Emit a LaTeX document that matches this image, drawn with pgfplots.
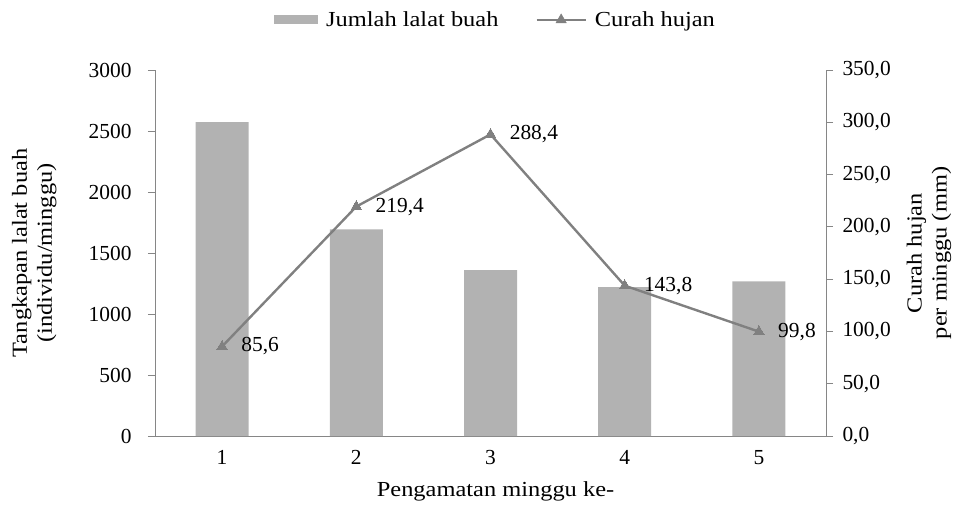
\documentclass[border=0pt]{standalone}
\usepackage{fontspec}
\setmainfont{Liberation Serif}[FakeStretch=1.14]
\newfontfamily\numfont{Liberation Serif}
\usepackage{pgfplots}
\pgfplotsset{compat=1.18}
\definecolor{barcol}{RGB}{178,178,178}
\definecolor{linecol}{RGB}{128,128,128}
\definecolor{axcol}{RGB}{134,134,134}
\newcommand{\fs}{\fontsize{21.5}{25}\selectfont}
\begin{document}
\begin{tikzpicture}[font=\fs]
\useasboundingbox (-155bp,-75bp) rectangle (800bp,436bp);
\begin{axis}[
  at={(0,0)}, anchor=south west,
  scale only axis, width=671bp, height=366bp,
  xmin=0.5, xmax=5.5, ymin=0, ymax=3000,
  axis x line*=bottom, axis y line*=left,
  axis line style={axcol, line width=0.8pt, -},
  xtick={1,2,3,4,5}, x tick style={draw=none},
  extra x ticks={0.5,1.5,2.5,3.5,4.5,5.5}, extra x tick labels={},
  extra x tick style={tick align=outside, major tick length=7bp, tick style={axcol, line width=0.8pt}},
  ytick={0,500,...,3000},
  y tick style={axcol, line width=0.8pt},
  tick align=outside, major tick length=7bp,
  /pgf/number format/assume math mode=true,
  /pgf/number format/1000 sep={},
  tick label style={font=\numfont\fs},
  label style={font=\fs},
  yticklabel style={anchor=east, xshift=-13bp},
  xticklabel style={anchor=north, yshift=-4bp},
  ylabel={Tangkapan lalat buah\\(individu/minggu)},
  ylabel style={align=center, at={(axis description cs:-0.180,0.5)}, anchor=center, rotate=0},
  xlabel={Pengamatan minggu ke-},
  xlabel style={at={(axis description cs:0.5075,-0.150)}, anchor=center},
  ybar, bar width=53bp,
  legend style={font=\fs, draw=none, fill=none, legend columns=2, at={(axis description cs:0.5075,1.137)}, anchor=center, column sep=6bp,
    /tikz/every even column/.append style={column sep=35bp}},
]
\addplot[fill=barcol, draw=none, area legend, legend image code/.code={\fill[barcol] (0bp,-4.5bp) rectangle (44bp,4.5bp);}] coordinates {(1,2572) (2,1694) (3,1360) (4,1220) (5,1268)};
\addlegendentry{Jumlah lalat buah}
\addlegendimage{legend image code/.code={\draw[linecol, line width=2.4pt] (0bp,0bp) -- (49bp,0bp); \fill[linecol] (24.5bp,0bp) ++(90:6bp) -- ++(-120:10.4bp) -- ++(0:10.4bp) -- cycle;}}
\addlegendentry{Curah hujan}
\end{axis}
\begin{axis}[
  at={(0,0)}, anchor=south west,
  scale only axis, width=671bp, height=366bp,
  xmin=0.5, xmax=5.5, ymin=0, ymax=350,
  axis x line=none, axis y line*=right,
  axis line style={axcol, line width=0.8pt, -},
  ytick={0,50,...,350},
  y tick style={axcol, line width=0.8pt},
  tick align=outside, major tick length=7bp,
  /pgf/number format/.cd, fixed, fixed zerofill, precision=1, use comma, assume math mode=true, /pgfplots/.cd,
  tick label style={font=\numfont\fs},
  yticklabel style={anchor=west, xshift=6bp},
  ylabel={Curah hujan\\per minggu (mm)},
  ylabel style={font=\fs, align=center, at={(axis description cs:1.1535,0.5)}, anchor=center, rotate=0},
]
\addplot[linecol, line width=2.4pt, mark=triangle*, mark size=6bp, mark options={fill=linecol, draw=linecol, line width=0pt},
  nodes near coords={\pgfmathprintnumber[fixed,fixed zerofill,precision=1,use comma,assume math mode=true]{\pgfplotspointmeta}},
  nodes near coords style={anchor=west, xshift=16bp, text=black, font=\numfont\fs}, point meta=y]
  coordinates {(1,85.6) (2,219.4) (3,288.4) (4,143.8) (5,99.8)};
\end{axis}
\end{tikzpicture}
\end{document}
